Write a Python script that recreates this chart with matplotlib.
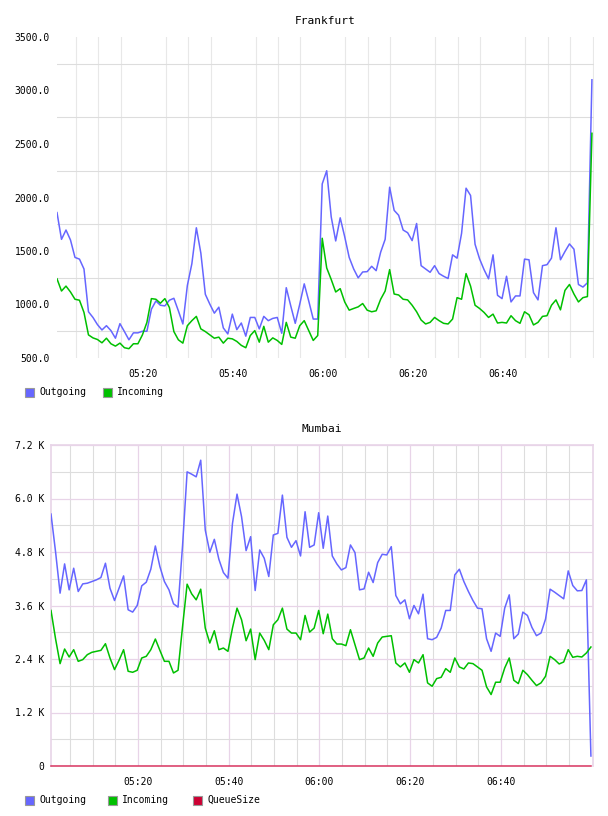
import numpy as np
import matplotlib
matplotlib.use('Agg')
import matplotlib.pyplot as plt
from matplotlib.patches import Rectangle
from matplotlib.ticker import FuncFormatter, MultipleLocator

# minutes after 05:00, one sample per minute
minutes = 0.84 + np.arange(120)

fra_out = [1859, 1609, 1696, 1603, 1440, 1424, 1332, 932, 879, 812,
           762, 802, 756, 685, 821, 747, 670, 735, 735, 750,
           750, 956, 1033, 993, 987, 1040, 1058, 941, 818, 1178,
           1381, 1717, 1480, 1095, 1003, 919, 975, 781, 725, 910,
           765, 827, 704, 879, 879, 772, 889, 849, 870, 879,
           731, 1157, 987, 824, 1003, 1193, 1033, 864, 864, 2127,
           2250, 1819, 1594, 1810, 1634, 1440, 1332, 1249, 1304, 1307,
           1357, 1316, 1489, 1609, 2096, 1880, 1834, 1696, 1671, 1597,
           1757, 1363, 1332, 1301, 1363, 1289, 1264, 1243, 1464, 1433,
           1665, 2087, 2019, 1563, 1427, 1326, 1240, 1464, 1086, 1055,
           1264, 1024, 1080, 1080, 1424, 1418, 1111, 1043, 1363, 1372,
           1433, 1717, 1418, 1495, 1566, 1517, 1187, 1163, 1203, 3100]

fra_in = [1240, 1126, 1172, 1117, 1049, 1040, 926, 716, 688, 673,
          642, 685, 633, 611, 639, 596, 587, 633, 633, 716,
          833, 1055, 1049, 1012, 1055, 972, 747, 670, 639, 802,
          849, 889, 772, 747, 716, 685, 695, 639, 685, 679,
          655, 618, 596, 710, 756, 648, 796, 648, 688, 664,
          627, 833, 695, 685, 802, 849, 756, 664, 710, 1619,
          1341, 1234, 1117, 1148, 1024, 947, 963, 978, 1009, 947,
          932, 941, 1049, 1126, 1326, 1098, 1089, 1049, 1043, 993,
          932, 855, 818, 833, 879, 849, 824, 818, 864, 1064,
          1049, 1289, 1172, 993, 963, 926, 879, 910, 827, 833,
          827, 895, 849, 824, 932, 904, 809, 833, 889, 895,
          993, 1043, 950, 1132, 1187, 1098, 1024, 1064, 1074, 2600]

mum_out = [5651, 4808, 3877, 4533, 3951, 4436, 3914, 4085, 4100, 4137,
           4175, 4227, 4548, 3988, 3712, 3988, 4264, 3504, 3452, 3601,
           4041, 4123, 4414, 4935, 4473, 4137, 3951, 3638, 3564, 4950,
           6598, 6546, 6486, 6859, 5293, 4793, 5084, 4637, 4339, 4212,
           5442, 6098, 5591, 4831, 5144, 3936, 4846, 4659, 4250, 5181,
           5218, 6076, 5129, 4905, 5054, 4711, 5703, 4905, 4958, 5681,
           4883, 5606, 4711, 4533, 4398, 4450, 4958, 4786, 3951, 3973,
           4346, 4115, 4562, 4749, 4734, 4920, 3824, 3638, 3727, 3303,
           3601, 3414, 3854, 2855, 2833, 2885, 3094, 3489, 3489, 4287,
           4414, 4137, 3914, 3712, 3541, 3527, 2855, 2572, 2982, 2908,
           3541, 3839, 2855, 2960, 3452, 3377, 3109, 2923, 2982, 3295,
           3966, 3899, 3824, 3750, 4376, 4048, 3929, 3936, 4175, 224]

mum_in = [3489, 2855, 2296, 2624, 2445, 2609, 2348, 2386, 2497, 2550,
          2572, 2594, 2743, 2423, 2162, 2371, 2609, 2125, 2102, 2147,
          2423, 2460, 2609, 2848, 2594, 2348, 2348, 2087, 2147, 3131,
          4078, 3862, 3727, 3966, 3094, 2758, 3034, 2609, 2646, 2572,
          3094, 3541, 3280, 2810, 3071, 2386, 2982, 2818, 2609, 3168,
          3280, 3541, 3071, 2982, 2982, 2833, 3377, 3004, 3094, 3489,
          2967, 3407, 2855, 2736, 2736, 2699, 3057, 2721, 2386, 2423,
          2646, 2460, 2758, 2893, 2908, 2922, 2311, 2222, 2311, 2102,
          2386, 2311, 2497, 1864, 1789, 1960, 1990, 2184, 2102, 2423,
          2222, 2177, 2311, 2296, 2222, 2147, 1774, 1603, 1879, 1879,
          2199, 2423, 1923, 1849, 2147, 2050, 1923, 1804, 1864, 2013,
          2460, 2386, 2289, 2333, 2609, 2438, 2460, 2445, 2535, 2669]

mum_queue = [0] * 120

BLUE = '#6666ff'
GREEN = '#00c000'
RED = '#cc0033'
GRAY = '#dddddd'
PINK = '#e8d4e8'

plt.rcParams['font.family'] = 'DejaVu Sans Mono'
plt.rcParams['font.size'] = 7

W, H = 608, 816
fig = plt.figure(figsize=(W / 100, H / 100), dpi=100)


def box(l, r, t, b):
    return [l / W, 1 - b / H, (r - l) / W, (b - t) / H]


def hhmm(v, pos=None):
    v = int(round(v))
    return '%02d:%02d' % (5 + v // 60, v % 60)


def legend(y, items):
    for x, color, label in items:
        fig.add_artist(Rectangle((x / W, 1 - (y + 5) / H), 9 / W, 9 / H,
                                 transform=fig.transFigure, facecolor=color,
                                 edgecolor='#999999', lw=0.8))
        fig.text((x + 14) / W, 1 - y / H, label, va='center', ha='left',
                 fontsize=7, color='black')


XMIN, XMAX = 0.84, 120.3

# ---- Frankfurt
ax1 = fig.add_axes(box(57, 594, 37, 358))
ax1.plot(minutes, fra_out, color=BLUE, lw=1.1, zorder=3)
ax1.plot(minutes, fra_in, color=GREEN, lw=1.1, zorder=4)
ax1.set_xlim(XMIN, XMAX)
ax1.set_ylim(500, 3500)
ax1.yaxis.set_major_locator(MultipleLocator(500))
ax1.set_yticks(np.arange(750, 3500, 500), minor=True)
ax1.yaxis.set_major_formatter(FuncFormatter(lambda v, p: '%.1f' % v))
ax1.set_xticks([20, 40, 60, 80, 100])
ax1.set_xticks(np.arange(5, 121, 5), minor=True)
ax1.xaxis.set_major_formatter(FuncFormatter(hhmm))
ax1.grid(False)
ax1.grid(True, which='minor', axis='y', color=GRAY, lw=0.8)
ax1.grid(True, which='minor', axis='x', color='#e8e8e8', lw=0.8)
ax1.tick_params(which='both', length=0)
ax1.tick_params(axis='y', pad=5)
ax1.tick_params(axis='x', pad=8)
for s in ax1.spines.values():
    s.set_visible(False)
ax1.set_title('Frankfurt', fontsize=8, pad=9)
legend(392, [(25, BLUE, 'Outgoing'), (103, GREEN, 'Incoming')])

# ---- Mumbai
ax2 = fig.add_axes(box(51, 593, 445, 766))
ax2.plot(minutes, mum_out, color=BLUE, lw=1.1, zorder=3)
ax2.plot(minutes, mum_in, color=GREEN, lw=1.1, zorder=4)
ax2.plot(minutes, mum_queue, color='#d83560', lw=1.1, zorder=5, clip_on=False)
ax2.set_xlim(XMIN, XMAX)
ax2.set_ylim(0, 7200)
ax2.set_yticks(np.arange(0, 7201, 1200))
ax2.set_yticks(np.arange(600, 7200, 1200), minor=True)
ax2.yaxis.set_major_formatter(
    FuncFormatter(lambda v, p: '0' if v == 0 else '%.1f K' % (v / 1000)))
ax2.set_xticks([20, 40, 60, 80, 100])
ax2.set_xticks([m for m in range(5, 121, 5) if m % 20], minor=True)
ax2.xaxis.set_major_formatter(FuncFormatter(hhmm))
ax2.grid(True, which='major', color=PINK, lw=0.9)
ax2.grid(True, which='minor', color=GRAY, lw=0.8)
ax2.tick_params(which='both', length=0)
ax2.tick_params(axis='y', pad=5)
ax2.tick_params(axis='x', pad=8)
for s in ax2.spines.values():
    s.set_color(PINK)
    s.set_linewidth(1.2)
ax2.spines['bottom'].set_visible(False)
ax2.set_title('Mumbai', fontsize=8, pad=9)
legend(800, [(25, BLUE, 'Outgoing'), (108, GREEN, 'Incoming'),
             (193, RED, 'QueueSize')])

fig.savefig('out.png', dpi=100, facecolor='white')
